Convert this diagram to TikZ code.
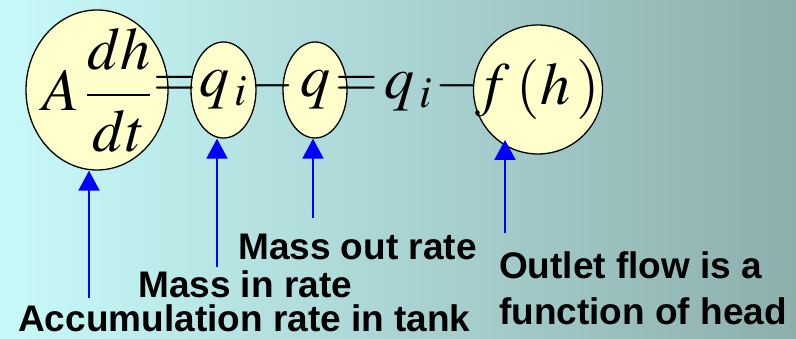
\documentclass[tikz,border=0pt]{standalone}
\usepackage{xcolor}
\usepackage{tikz}
\usetikzlibrary{shapes.geometric,arrows.meta}
\usepackage{amsmath}
\usepackage{mathptmx}
\usepackage{fontspec}
\setsansfont{Liberation Sans}
\definecolor{tankleft}{HTML}{C8FAFA}
\definecolor{tankright}{HTML}{8CAFAC}
\definecolor{tankcream}{HTML}{FFFFCC}
\definecolor{tankblue}{HTML}{0000FF}

\begin{document}
\begin{tikzpicture}[x=1pt,y=-1pt,
  term/.style={ellipse,draw=black,line width=1.3pt,fill=tankcream,inner sep=-40pt,
    font=\fontsize{60}{70}\selectfont},
  op/.style={inner sep=0pt,font=\fontsize{55}{65}\selectfont},
  pointer/.style={tankblue,line width=2pt,-{Triangle[width=21pt,length=20pt]}},
  caption/.style={anchor=base west,inner sep=0pt,font=\fontsize{37}{46}\selectfont\sffamily\bfseries}]
  \shade[left color=tankleft,right color=tankright] (0,0) rectangle (796,339);
  \useasboundingbox (0,0) rectangle (796,339);
  \node[term,minimum width=142pt,minimum height=160pt] (acc) at (97,90)
    {$A\,\dfrac{\fontsize{58}{60}\selectfont dh}{\fontsize{58}{60}\selectfont dt}$};
  \node[term,minimum width=65pt,minimum height=96pt] (qin) at (223.5,90) {$q_{\,i}$};
  \node[term,minimum width=64pt,minimum height=96pt] (qout) at (315,90) {$q$};
  \node[term,minimum width=129pt,minimum height=129pt] (fh) at (538,89.5) {$f\,(h\,)$};
  \node[op] (eqa) at (175,86) {$=$};
  \node[op] (mina) at (273,86) {$-$};
  \node[op] (eqb) at (357,86) {$=$};
  \node[op,font=\fontsize{60}{70}\selectfont] (qinb) at (408,92) {$q_{\,i}$};
  \node[op] (minb) at (457,86) {$-$};
  \coordinate (accfoot) at (89,298);
  \coordinate (qinfoot) at (217,267);
  \coordinate (qoutfoot) at (313,218);
  \coordinate (fhfoot) at (505,233);
  \draw[pointer] (accfoot) -- (accfoot |- acc.south);
  \draw[pointer] (qinfoot) -- (qinfoot |- qin.south);
  \draw[pointer] (qoutfoot) -- (qoutfoot |- qout.south);
  \draw[pointer] (fhfoot) -- ([yshift=6pt]fhfoot |- fh.240);
  \node[caption] (acclabel) at (18,332) {Accumulation rate in tank};
  \node[caption] (inlabel) at (138,298) {Mass in rate};
  \node[caption] (outlabel) at (238,260) {Mass out rate};
  \node[caption,align=left,anchor=north west] (fhlabel) at (499,251) {Outlet flow is a\\function of head};
\end{tikzpicture}
\end{document}
